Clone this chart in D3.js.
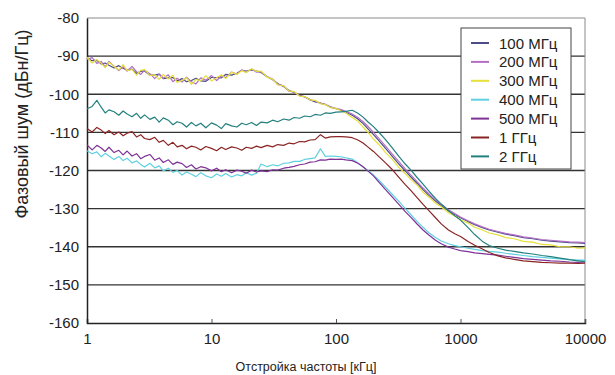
<!DOCTYPE html>
<html>
<head>
<meta charset="utf-8">
<script src="https://cdn.jsdelivr.net/npm/d3@7"></script>
<style>
  body { margin: 0; background: #fff; }
  text { font-family: "Liberation Sans", Arial, sans-serif; fill: #222; }
</style>
</head>
<body>
<svg id="chart" width="615" height="375"></svg>
<script>
// offset frequency, kHz
var freq = [1, 1.1, 1.2, 1.3, 1.4, 1.5, 1.65, 1.8, 1.95, 2.1,
  2.3, 2.5, 2.7, 2.9, 3.2, 3.5, 3.8, 4.1, 4.5, 4.9,
  5.3, 5.8, 6.3, 6.9, 7.5, 8.2, 9, 10, 11, 12,
  13, 14.5, 16, 17.5, 19, 21, 23, 25, 28, 31,
  34, 38, 42, 46, 51, 56, 62, 68, 75, 82,
  90, 100, 110, 120, 135, 150, 165, 180, 200, 220,
  250, 280, 320, 360, 400, 450, 500, 560, 630, 700,
  800, 900, 1000, 1150, 1300, 1500, 1700, 2000, 2300, 2700,
  3200, 3800, 4500, 5300, 6300, 7500, 8800, 10000];

var seriesNames = ["100 МГц", "200 МГц", "300 МГц", "400 МГц", "500 МГц", "1 ГГц", "2 ГГц"];
var seriesColors = ["#4d4d86", "#b36fc4", "#e6e03a", "#5fd0e0", "#7e3296", "#8a2424", "#23807f"];

var mhz100 = [-90.5, -91.2, -91.1, -92.1, -91.8, -92.4, -93.1, -92.5, -93.2, -93.7,
  -93.4, -94.5, -94.0, -93.9, -95.0, -95.0, -94.7, -95.9, -95.7, -95.6,
  -96.5, -95.9, -96.7, -96.4, -95.8, -96.5, -96.6, -95.6, -95.6, -95.7,
  -94.8, -95.0, -94.5, -93.7, -93.9, -93.6, -93.9, -94.3, -95.4, -96.2,
  -97.2, -98.0, -99.0, -99.5, -100.3, -100.7, -101.4, -102.0, -102.3, -102.7,
  -103.3, -103.8, -104.2, -104.7, -105.5, -106.5, -107.7, -109.0, -110.6, -112.1,
  -114.2, -116.1, -118.3, -120.1, -121.7, -123.4, -125.0, -126.6, -128.0, -129.2,
  -130.6, -131.6, -132.4, -133.4, -134.2, -135.0, -135.6, -136.2, -136.7, -137.1,
  -137.6, -137.9, -138.3, -138.5, -138.7, -138.9, -139.0, -139.1];

var mhz200 = [-90.9, -90.4, -91.9, -91.4, -92.8, -91.4, -92.7, -93.8, -92.8, -93.9,
  -92.7, -94.1, -94.8, -93.7, -94.6, -95.9, -94.7, -95.8, -94.9, -96.7,
  -95.8, -96.8, -95.5, -96.7, -97.3, -95.7, -96.3, -95.1, -96.4, -95.2,
  -95.6, -94.2, -94.7, -93.6, -94.2, -93.4, -94.2, -94.1, -95.4, -96.0,
  -97.4, -97.8, -99.2, -99.4, -100.4, -100.6, -101.6, -101.7, -102.4, -102.6,
  -103.4, -103.7, -104.0, -104.5, -105.2, -106.1, -107.2, -108.4, -110.0, -111.5,
  -113.6, -115.5, -117.7, -119.6, -121.2, -123.0, -124.6, -126.2, -127.7, -128.9,
  -130.3, -131.3, -132.2, -133.2, -134.0, -134.8, -135.4, -136.0, -136.5, -136.9,
  -137.4, -137.7, -138.1, -138.3, -138.5, -138.7, -138.8, -138.9];

var mhz300 = [-90.3, -91.8, -90.9, -91.9, -93.0, -91.6, -92.7, -93.6, -92.2, -93.8,
  -93.5, -95.0, -93.7, -93.5, -95.1, -94.9, -96.1, -94.8, -96.0, -95.0,
  -96.9, -96.4, -95.7, -97.4, -96.1, -96.5, -95.1, -96.5, -95.7, -94.9,
  -95.9, -94.2, -94.8, -93.8, -94.3, -93.3, -94.0, -93.9, -95.5, -96.1,
  -97.5, -97.8, -99.1, -99.3, -100.5, -100.6, -101.5, -101.6, -102.5, -102.7,
  -103.5, -103.7, -104.4, -104.9, -106.1, -107.1, -108.6, -109.9, -111.8, -113.1,
  -115.3, -116.9, -119.2, -120.8, -122.4, -123.9, -125.7, -127.0, -128.6, -129.5,
  -131.1, -131.9, -132.9, -133.8, -134.9, -135.6, -136.4, -136.9, -137.6, -137.9,
  -138.6, -138.8, -139.4, -139.5, -140.0, -140.0, -140.4, -140.3];

var mhz400 = [-114.8, -115.6, -115.1, -116.4, -115.5, -116.2, -117.1, -116.3, -117.4, -116.8,
  -118.0, -117.5, -118.4, -119.1, -118.1, -119.3, -118.8, -120.1, -119.4, -120.5,
  -120.0, -121.2, -120.4, -121.0, -121.6, -120.6, -121.4, -121.9, -120.9, -121.5,
  -120.8, -121.7, -121.1, -121.4, -120.6, -121.2, -120.7, -118.3, -119.0, -118.5,
  -118.8, -118.1, -118.0, -117.6, -117.6, -117.1, -116.9, -116.7, -114.3, -116.3,
  -116.2, -116.3, -116.4, -116.7, -117.0, -118.0, -119.1, -120.0, -121.2, -122.5,
  -124.4, -126.1, -128.1, -130.0, -131.6, -133.4, -134.9, -136.4, -137.6, -138.5,
  -139.2, -139.7, -140.0, -140.4, -140.7, -141.0, -141.2, -141.4, -141.7, -142.0,
  -142.3, -142.6, -142.8, -143.0, -143.2, -143.4, -143.5, -143.5];

var mhz500 = [-113.3, -114.6, -113.4, -114.1, -115.0, -113.9, -115.3, -114.7, -115.9, -114.9,
  -116.2, -115.6, -116.9, -116.3, -115.8, -117.3, -116.7, -117.9, -117.2, -118.4,
  -117.8, -118.2, -119.2, -118.5, -119.6, -119.0, -119.3, -120.1, -119.4, -120.3,
  -119.8, -120.6, -119.9, -120.2, -120.7, -119.9, -120.4, -120.1, -120.3, -119.8,
  -119.9, -119.4, -119.2, -118.9, -118.5, -118.3, -117.8, -117.7, -117.2, -117.3,
  -117.0, -117.1, -117.0, -117.2, -117.4, -118.1, -119.0, -120.1, -121.4, -123.0,
  -125.0, -126.8, -128.9, -130.8, -132.3, -134.1, -135.6, -137.0, -138.3, -139.2,
  -140.1, -140.6, -141.0, -141.3, -141.6, -141.8, -142.0, -142.2, -142.5, -142.8,
  -143.1, -143.3, -143.5, -143.7, -143.8, -144.0, -144.1, -144.0];

var ghz1 = [-109.0, -109.9, -108.7, -109.4, -110.3, -109.5, -110.6, -109.9, -110.9, -110.2,
  -109.8, -111.2, -110.6, -111.6, -111.9, -111.3, -112.6, -112.1, -113.4, -112.6,
  -113.8, -113.4, -114.3, -113.6, -113.9, -114.6, -113.7, -114.2, -114.8, -113.9,
  -114.5, -113.8, -114.1, -114.7, -113.9, -114.2, -113.6, -114.0, -113.4, -113.8,
  -113.2, -113.4, -112.8, -113.0, -112.4, -112.5, -112.0, -111.9, -110.6, -111.5,
  -111.2, -111.1, -111.1, -111.2, -111.4, -112.0, -112.8, -113.8, -115.0, -116.3,
  -118.0, -119.6, -121.8, -123.7, -125.3, -127.2, -128.9, -130.6, -132.4, -134.0,
  -135.6, -136.6, -137.3, -138.6, -139.6, -140.6, -141.5, -142.4, -142.9, -143.3,
  -143.7, -143.9, -144.1, -144.2, -144.3, -144.3, -144.4, -144.3];

var ghz2 = [-103.8, -103.2, -101.6, -103.4, -104.9, -104.1, -104.6, -105.5, -104.4, -105.2,
  -105.9, -105.0, -106.3, -105.4, -106.6, -106.0, -107.3, -106.2, -106.8, -108.0,
  -107.2, -107.6, -108.6, -107.4, -108.3, -107.6, -108.8, -107.5, -108.1, -109.0,
  -107.7, -108.3, -108.6, -107.6, -108.0, -107.4, -108.2, -107.3, -107.5, -106.8,
  -107.2, -106.5, -106.8, -106.1, -106.3, -105.7, -105.9, -105.3, -105.5, -104.9,
  -105.0, -104.7, -104.6, -104.5, -104.2, -105.0, -106.0, -107.2, -108.5, -109.9,
  -111.9, -113.9, -116.3, -118.3, -119.9, -121.9, -123.6, -125.5, -127.3, -128.8,
  -130.5, -131.9, -133.0, -135.0, -136.8, -138.6, -139.7, -140.4, -140.9, -141.2,
  -141.6, -141.9, -142.3, -142.6, -143.0, -143.4, -143.7, -143.9];

var seriesValues = [mhz100, mhz200, mhz300, mhz400, mhz500, ghz1, ghz2];

var xTicks = [1, 10, 100, 1000, 10000];
var yTicks = [-160, -150, -140, -130, -120, -110, -100, -90, -80];

var svg = d3.select("#chart"),
    plotLeft = 87, plotRight = 585, plotTop = 18, plotBottom = 323;

var xScale = d3.scaleLog().domain([1, 10000]).range([plotLeft, plotRight]),
    yScale = d3.scaleLinear().domain([-160, -80]).range([plotBottom, plotTop]);

// grid lines
svg.append("g")
  .selectAll("line")
  .data(yTicks.filter(function(d) { return d > -160 && d < -80; }))
  .enter().append("line")
  .attr("x1", plotLeft)
  .attr("x2", plotRight)
  .attr("y1", function(d) { return yScale(d); })
  .attr("y2", function(d) { return yScale(d); })
  .attr("stroke", "#333")
  .attr("stroke-width", 1.3);

// frame (top and right lighter)
svg.append("line").attr("x1", plotLeft).attr("x2", plotRight).attr("y1", plotTop).attr("y2", plotTop)
  .attr("stroke", "#8a8a8a").attr("stroke-width", 1);
svg.append("line").attr("x1", plotRight).attr("x2", plotRight).attr("y1", plotTop).attr("y2", plotBottom)
  .attr("stroke", "#8a8a8a").attr("stroke-width", 1);

// axes
var xAxis = svg.append("g")
  .attr("transform", "translate(0," + plotBottom + ")")
  .call(d3.axisBottom(xScale).tickValues(xTicks).tickSize(-4).tickPadding(10)
    .tickFormat(function(d) { return d; }));
xAxis.select(".domain").attr("stroke", "#222").attr("stroke-width", 1.5);
xAxis.selectAll(".tick line").attr("stroke", "#555");
xAxis.selectAll("text").attr("font-size", "15px").attr("fill", "#222");

var yAxis = svg.append("g")
  .attr("transform", "translate(" + plotLeft + ",0)")
  .call(d3.axisLeft(yScale).tickValues(yTicks).tickSize(0).tickPadding(8)
    .tickFormat(function(d) { return String(d); }));
yAxis.select(".domain").attr("stroke", "#222").attr("stroke-width", 1.5);
yAxis.selectAll("text").attr("font-size", "15px").attr("fill", "#222");

// series
var line = d3.line()
  .x(function(d) { return xScale(d[0]); })
  .y(function(d) { return yScale(d[1]); });

seriesValues.forEach(function(vals, i) {
  svg.append("path")
    .datum(freq.map(function(f, j) { return [f, vals[j]]; }))
    .attr("fill", "none")
    .attr("stroke", seriesColors[i])
    .attr("stroke-width", 1.2)
    .attr("stroke-linejoin", "round")
    .attr("d", line);
});

// axis titles
svg.append("text")
  .attr("x", 306)
  .attr("y", 371)
  .attr("text-anchor", "middle")
  .attr("font-size", "12.5px")
  .text("Отстройка частоты [кГц]");

svg.append("text")
  .attr("transform", "translate(28,124) rotate(-90)")
  .attr("text-anchor", "middle")
  .attr("font-size", "18px")
  .attr("fill", "#333")
  .text("Фазовый шум (дБн/Гц)");

// legend
var legend = svg.append("g");
legend.append("rect")
  .attr("x", 461).attr("y", 28)
  .attr("width", 110).attr("height", 141)
  .attr("fill", "#fff")
  .attr("stroke", "#444")
  .attr("stroke-width", 1);

seriesNames.forEach(function(name, i) {
  var y = 43 + i * 18.9;
  legend.append("line")
    .attr("x1", 471).attr("x2", 489)
    .attr("y1", y).attr("y2", y)
    .attr("stroke", seriesColors[i])
    .attr("stroke-width", 2);
  legend.append("text")
    .attr("x", 499).attr("y", y + 5.5)
    .attr("font-size", "15px")
    .text(name);
});
</script>
</body>
</html>
